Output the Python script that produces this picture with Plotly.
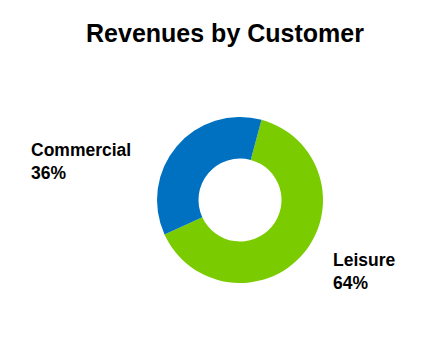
import plotly.graph_objects as go

categories = ["Leisure", "Commercial"]
values = [64, 36]
colors = ["#7ACC00", "#0070C0"]
title_text = "Revenues by Customer"

W, H = 446, 340
FONT = "Liberation Sans, Arial, sans-serif"

fig = go.Figure(go.Pie(
    labels=categories,
    values=values,
    hole=0.5,
    sort=False,
    direction="clockwise",
    rotation=15,
    marker=dict(colors=colors, line=dict(width=0)),
    textinfo="none",
    hoverinfo="label+percent",
    domain=dict(x=[157 / W, 323 / W], y=[57 / H, 223 / H]),
    showlegend=False,
))

label_pos = {"Commercial": (29, 138), "Leisure": (331, 248)}
total = sum(values)
annotations = []
for cat, val in zip(categories, values):
    px, py = label_pos[cat]
    annotations.append(dict(
        text=f"<b>{cat}<br>{round(val / total * 100)}%</b>",
        x=px / W, y=1 - py / H, xref="paper", yref="paper",
        xanchor="left", yanchor="top", align="left", showarrow=False,
        font=dict(family=FONT, size=17.5, color="#000000"),
    ))

fig.update_layout(
    width=W, height=H,
    margin=dict(l=0, r=0, t=0, b=0),
    paper_bgcolor="white", plot_bgcolor="white",
    title=dict(text=f"<b>{title_text}</b>", x=225 / W, xanchor="center",
               y=1 - 33 / H, yanchor="middle",
               font=dict(family=FONT, size=25, color="#000000")),
    annotations=annotations,
)

fig.write_html("out.html")
